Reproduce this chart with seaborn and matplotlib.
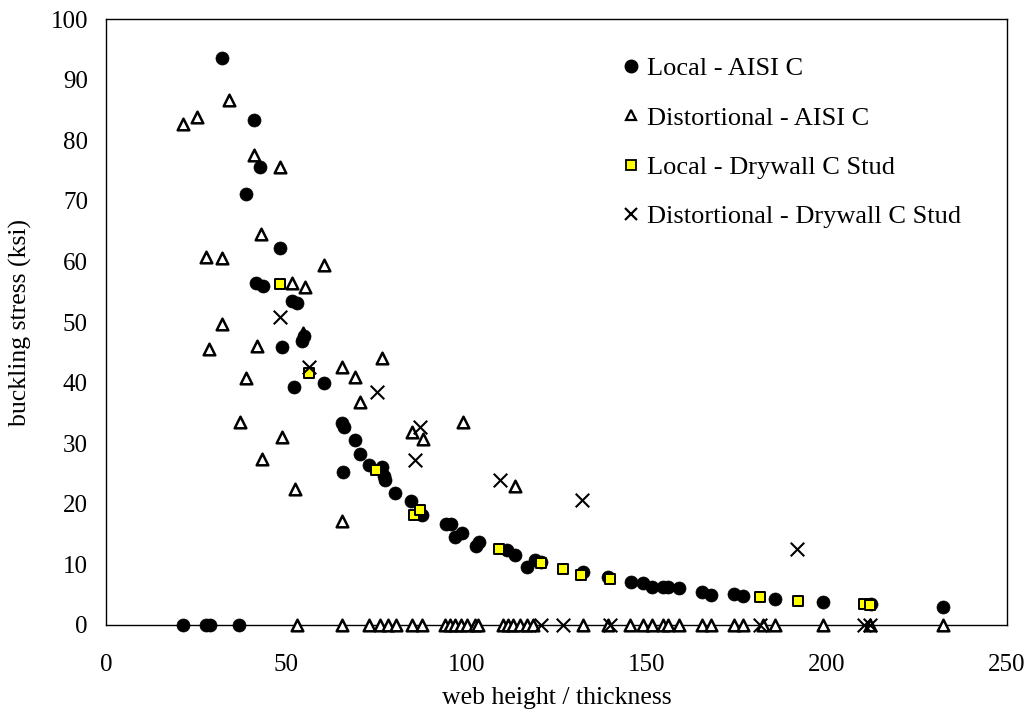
import matplotlib
matplotlib.use("Agg")
import matplotlib.pyplot as plt
import seaborn as sns
import pandas as pd
from matplotlib.lines import Line2D

# Local buckling, AISI C sections (h/t, ksi)
local_aisi_x = [21.3, 27.7, 28.9, 37.0,
                32.3, 41.2, 42.8, 38.8, 48.3, 41.6, 43.5, 51.5, 52.9, 54.9,
                54.5, 48.8, 52.3, 60.4, 65.6, 65.9, 69.0, 70.5, 72.9, 76.5,
                77.0, 77.3, 65.7, 80.3, 84.6, 87.6, 94.3, 95.6, 96.8, 98.9,
                102.6, 103.6, 111.4, 113.4, 116.7, 119.0, 120.6, 132.3, 139.3,
                145.6, 149.1, 151.4, 154.6, 156.0, 159.1, 165.5, 168.0, 174.3,
                176.8, 185.7, 199.0, 212.2, 232.3]
local_aisi_y = [0, 0, 0, 0,
                93.6, 83.3, 75.6, 71.2, 62.2, 56.4, 55.9, 53.5, 53.1, 47.7,
                46.9, 45.8, 39.3, 39.9, 33.3, 32.7, 30.6, 28.2, 26.4, 26.1,
                24.6, 23.9, 25.3, 21.7, 20.4, 18.2, 16.7, 16.6, 14.6, 15.1,
                13.0, 13.7, 12.4, 11.5, 9.6, 10.7, 10.4, 8.7, 8.0,
                7.1, 6.9, 6.2, 6.2, 6.3, 6.1, 5.5, 5.0, 5.1,
                4.8, 4.3, 3.8, 3.4, 2.9]

# Distortional buckling, AISI C sections
dist_aisi_x = [21.3, 25.2, 34.2, 41.2, 48.3, 42.9, 27.7, 32.3, 60.5, 51.7,
               55.3, 32.3, 54.6, 28.7, 41.9, 65.6, 69.2, 76.7, 38.9, 70.5,
               37.1, 48.9, 43.4, 52.4, 84.8, 88.0, 99.1, 113.4, 65.6,
               53.1, 65.6, 73.0, 76.0, 78.3, 80.6, 84.8, 87.6, 94.1, 95.5,
               96.9, 98.5, 100.1, 102.4, 103.3, 110.2, 111.6, 113.0, 114.9,
               116.8, 118.6, 132.4, 139.4, 145.4, 149.1, 151.4, 154.6, 156.0,
               159.1, 165.5, 168.0, 174.3, 176.8, 182.3, 185.7, 199.0, 212.0,
               232.3]
dist_aisi_y = [82.7, 83.9, 86.7, 77.6, 75.6, 64.6, 60.7, 60.6, 59.4, 56.5,
               55.7, 49.7, 48.2, 45.6, 46.1, 42.5, 41.0, 44.1, 40.7, 36.8,
               33.5, 31.0, 27.4, 22.4, 31.9, 30.7, 33.5, 22.9, 17.2,
               0, 0, 0, 0, 0, 0, 0, 0, 0, 0,
               0, 0, 0, 0, 0, 0, 0, 0, 0,
               0, 0, 0, 0, 0, 0, 0, 0, 0,
               0, 0, 0, 0, 0, 0, 0, 0, 0,
               0]

# Local buckling, drywall C studs
local_stud_x = [48.4, 56.2, 75.0, 85.4, 87.0, 109.1, 120.6, 126.7, 131.9,
                139.8, 181.5, 191.9, 210.3, 212.0]
local_stud_y = [56.3, 41.6, 25.5, 18.2, 19.0, 12.5, 10.3, 9.3, 8.2,
                7.6, 4.7, 4.0, 3.5, 3.3]

# Distortional buckling, drywall C studs
dist_stud_x = [48.4, 56.2, 75.1, 85.6, 87.1, 109.2, 132.0, 191.8,
               120.6, 126.7, 139.8, 181.5, 210.3, 212.0]
dist_stud_y = [50.8, 42.6, 38.5, 27.3, 32.7, 23.9, 20.6, 12.5,
               0, 0, 0, 0, 0, 0]

labels = ["Local - AISI C", "Distortional - AISI C",
          "Local - Drywall C Stud", "Distortional - Drywall C Stud"]

sns.set_theme(style="white")
plt.rcParams["font.family"] = ["Liberation Serif", "DejaVu Serif"]
plt.rcParams["text.color"] = "black"
plt.rcParams["axes.labelcolor"] = "black"

fig = plt.figure(figsize=(10.30, 7.15), dpi=100)
ax = fig.add_axes([0.1029, 0.1259, 0.8748, 0.8475])

df_la = pd.DataFrame({"x": local_aisi_x, "y": local_aisi_y})
df_da = pd.DataFrame({"x": dist_aisi_x, "y": dist_aisi_y})
df_ls = pd.DataFrame({"x": local_stud_x, "y": local_stud_y})
df_ds = pd.DataFrame({"x": dist_stud_x, "y": dist_stud_y})

sns.scatterplot(data=df_da, x="x", y="y", ax=ax, marker="^", s=70,
                facecolor="white", edgecolor="black", linewidth=1.8,
                clip_on=False, zorder=3)
sns.scatterplot(data=df_la, x="x", y="y", ax=ax, marker="o", s=88,
                color="black", edgecolor="black", linewidth=0.5,
                clip_on=False, zorder=4)
sns.scatterplot(data=df_ls, x="x", y="y", ax=ax, marker="s", s=52,
                facecolor="#ffff00", edgecolor="black", linewidth=1.4,
                clip_on=False, zorder=5)
sns.scatterplot(data=df_ds, x="x", y="y", ax=ax, marker="x", s=95,
                color="black", linewidth=1.5, clip_on=False, zorder=6)

ax.set_xlim(0, 250)
ax.set_ylim(0, 100)
ax.set_xticks(range(0, 251, 50))
ax.set_yticks(range(0, 101, 10))
ax.tick_params(axis="both", direction="in", length=5.5, width=0.9,
               color="black", labelsize=18, labelcolor="black")
ax.tick_params(axis="y", pad=13)
ax.tick_params(axis="x", pad=21)
for sp in ax.spines.values():
    sp.set_visible(True)
    sp.set_color("black")
    sp.set_linewidth(1.0)

ax.set_xlabel("web height / thickness", fontsize=18.5, color="black", labelpad=8)
ax.set_ylabel("buckling stress (ksi)", fontsize=18.5, color="black", labelpad=13)

handles = [
    Line2D([], [], ls="none", marker="o", ms=9, mfc="black", mec="black"),
    Line2D([], [], ls="none", marker="^", ms=7, mfc="white", mec="black", mew=1.6),
    Line2D([], [], ls="none", marker="s", ms=7.5, mfc="#ffff00", mec="black", mew=1.3),
    Line2D([], [], ls="none", marker="x", ms=9, mec="black", mew=1.6),
]
leg = ax.legend(handles, labels, loc="upper left", bbox_to_anchor=(0.562, 0.955),
                frameon=False, fontsize=19, handlelength=0.6, handletextpad=0.3,
                labelspacing=0.98, borderaxespad=0)
for t in leg.get_texts():
    t.set_color("black")

fig.savefig("out.png", dpi=100, facecolor="white")
